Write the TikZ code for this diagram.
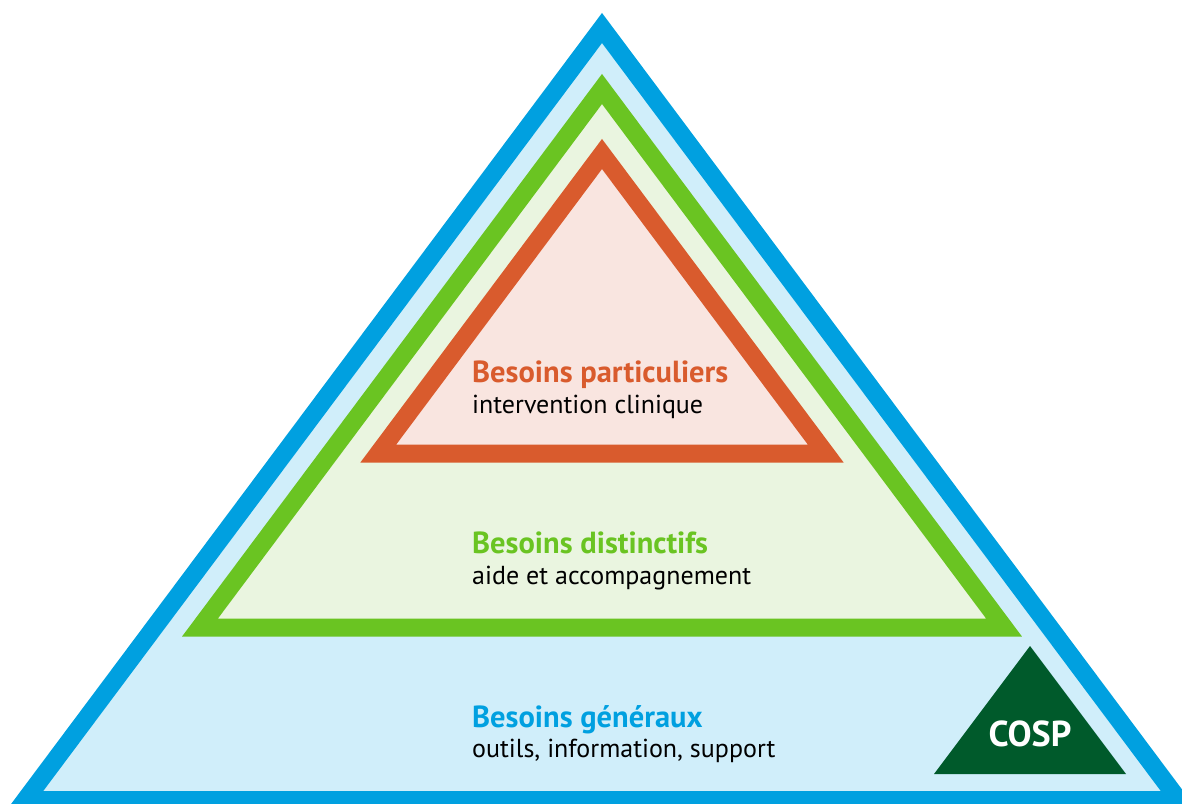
\documentclass[tikz,border=0pt]{standalone}
\usepackage{fontspec}
\setmainfont{PT Sans}
\definecolor{bleu}{RGB}{0,160,224}
\definecolor{bleuclair}{RGB}{208,238,250}
\definecolor{vert}{RGB}{106,196,34}
\definecolor{vertclair}{RGB}{234,245,224}
\definecolor{rouge}{RGB}{217,91,45}
\definecolor{rougeclair}{RGB}{249,229,224}
\definecolor{vertfonce}{RGB}{0,90,43}
\tikzset{
  band/.style={line width=18pt, line join=miter},
  titre/.style={anchor=base west, inner sep=0pt, font=\bfseries\fontsize{30.5}{34}\selectfont},
  soustitre/.style={anchor=base west, inner sep=0pt, font=\fontsize{26}{30}\selectfont},
}
\begin{document}
\begin{tikzpicture}[x=1pt,y=-1pt]
            \useasboundingbox (0,0) rectangle (1182,803);

            \draw[band, draw=bleu, fill=bleuclair] (602,28) -- (25.3,800) -- (1178.7,800) -- cycle;
            \draw[band, draw=vert, fill=vertclair] (602,89) -- (200,627.5) -- (1004,627.5) -- cycle;
            \draw[band, draw=rouge, fill=rougeclair] (602,154) -- (378.3,453.5) -- (825.7,453.5) -- cycle;
            \fill[vertfonce] (1030,646) -- (934,774) -- (1126,774) -- cycle;

            \node (particuliers) at (472,382) [titre, rouge] {Besoins particuliers};
            \node (clinique) at (472,413) [soustitre] {intervention clinique};
            \node (distinctifs) at (472,553) [titre, vert] {Besoins distinctifs};
            \node (aide) at (472,584) [soustitre] {aide et accompagnement};
            \node (generaux) at (472,727) [titre, bleu] {Besoins généraux};
            \node (outils) at (472,757) [soustitre] {outils, information, support};
            \node (cosp) at (1030,746) [anchor=base, inner sep=0pt, white, font=\bfseries\fontsize{36}{40}\selectfont] {COSP};
        \end{tikzpicture}
\end{document}
